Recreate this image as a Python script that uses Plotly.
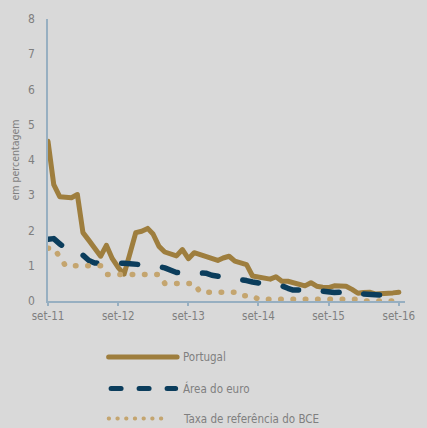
import plotly.graph_objects as go
import pandas as pd

months = pd.date_range("2011-09-01", "2016-09-01", freq="MS")

portugal = [4.53, 3.3, 2.96, 2.95, 2.93, 3.02, 1.94, 1.72, 1.5, 1.27, 1.58, 1.2, 0.95, 0.76,
            1.35, 1.94, 1.98, 2.06, 1.9, 1.55, 1.39, 1.35, 1.28, 1.46, 1.2, 1.37, 1.32, 1.28,
            1.2, 1.15, 1.22, 1.27, 1.13, 1.08, 1.03, 0.71, 0.67, 0.63, 0.62, 0.69, 0.56, 0.56,
            0.52, 0.47, 0.43, 0.52, 0.42, 0.39, 0.38, 0.43, 0.44, 0.42, 0.33, 0.22, 0.24, 0.25,
            0.2, 0.2, 0.21, 0.23, 0.25]

area_euro = [1.75, 1.77, 1.62, 1.5, 1.38, 1.28, 1.3, 1.15, 1.08, 1.08, 1.09, 1.1, 1.08, 1.07,
             1.06, 1.05, 1.03, 1.01, 1.0, 0.98, 0.94, 0.87, 0.81, 0.8, 0.79, 0.79, 0.77, 0.79,
             0.73, 0.71, 0.69, 0.67, 0.65, 0.61, 0.58, 0.54, 0.5, 0.48, 0.46, 0.44, 0.43, 0.36,
             0.31, 0.31, 0.32, 0.33, 0.33, 0.28, 0.24, 0.24, 0.25, 0.26, 0.27, 0.27, 0.2, 0.17,
             0.18, 0.17, 0.16, 0.15]

taxa_bce = [1.5, 1.5, 1.25, 1.0, 1.0, 1.0, 1.0, 1.0, 1.0, 1.0, 0.75, 0.75, 0.75, 0.75,
            0.75, 0.75, 0.75, 0.75, 0.75, 0.75, 0.5, 0.5, 0.5, 0.5, 0.5, 0.5, 0.25, 0.25,
            0.25, 0.25, 0.25, 0.25, 0.25, 0.15, 0.15, 0.15, 0.05, 0.05, 0.05, 0.05, 0.05, 0.05,
            0.05, 0.05, 0.05, 0.05, 0.05, 0.05, 0.05, 0.05, 0.05, 0.05, 0.05, 0.05, 0.0, 0.0,
            0.0, 0.0, 0.0, 0.0]

tick_dates = ["2011-09-01", "2012-09-01", "2013-09-01", "2014-09-01", "2015-09-01", "2016-09-01"]
tick_labels = ["set-11", "set-12", "set-13", "set-14", "set-15", "set-16"]
series_names = ["Portugal", "Área do euro", "Taxa de referência do BCE"]

C_PT = "#9e7e3e"
C_EU = "#0b3d5c"
C_BCE = "#c4a56f"
C_AX = "#97afc1"
C_TXT = "#7f7f7f"
BG = "#d9d9d9"
FONT = "DejaVu Sans Condensed, Liberation Sans Narrow, sans-serif"

fig = go.Figure()
fig.add_trace(go.Scatter(x=months, y=portugal, mode="lines", name=series_names[0],
                         line=dict(color=C_PT, width=5), showlegend=False))
fig.add_trace(go.Scatter(x=months[:len(area_euro)], y=area_euro, mode="lines", name=series_names[1],
                         line=dict(color=C_EU, width=5.5, dash="16px,25px"), showlegend=False))
fig.add_trace(go.Scatter(x=months[:len(taxa_bce)], y=taxa_bce, mode="lines", name=series_names[2],
                         line=dict(color=C_BCE, width=5.5, dash="0.5px,11.8px"), showlegend=False))

# manual legend
def py(ypix):
    return (301 - ypix) / 282.0

def px(xpix):
    return (xpix - 48) / 365.0

leg = [
    (357, dict(color=C_PT, width=5), 110, 180),
    (388.5, dict(color=C_EU, width=5, dash="10px,18px"), 112.5, 178.5),
    (418.5, dict(color=C_BCE, width=3.8, dash="0.5px,8.2px"), 110, 171.5),
]
for (yy, ln, x0, x1), name in zip(leg, series_names):
    fig.add_shape(type="line", xref="paper", yref="paper", x0=px(x0), x1=px(x1),
                  y0=py(yy), y1=py(yy), line=ln)
    fig.add_annotation(xref="paper", yref="paper", x=px(184), y=py(yy), text=name,
                       showarrow=False, xanchor="left", yanchor="middle",
                       font=dict(family=FONT, size=11.5, color=C_TXT))

fig.update_layout(
    width=427, height=428,
    margin=dict(l=48, r=14, t=19, b=127),
    paper_bgcolor=BG, plot_bgcolor=BG,
    font=dict(family=FONT, size=11.5, color=C_TXT),
    showlegend=False,
)
fig.update_xaxes(
    type="date", range=["2011-09-01", "2016-10-03"],
    tickvals=tick_dates, ticktext=tick_labels,
    showgrid=False, zeroline=False,
    showline=True, linecolor=C_AX, linewidth=1.5,
    ticks="outside", ticklen=3, tickcolor=C_AX, tickwidth=1.5,
    tickfont=dict(family=FONT, size=11.5, color=C_TXT),
)
fig.update_yaxes(
    range=[0, 8], dtick=1, showgrid=False, zeroline=False,
    showline=True, linecolor=C_AX, linewidth=1.5, ticks="",
    tickfont=dict(family=FONT, size=12, color=C_TXT),
    ticklabelstandoff=9,
    title=dict(text="em percentagem", font=dict(family=FONT, size=10.5, color=C_TXT), standoff=6),
)

post = ("document.body.style.margin='0';document.body.style.overflow='hidden';"
        "document.body.style.background='" + BG + "';"
        "var s=document.createElement('style');"
        "s.innerHTML='.js-line, .shapelayer path{stroke-linecap:round !important;stroke-linejoin:round !important;}';"
        "document.head.appendChild(s);")
fig.write_html("out.html", post_script=post, config={"displayModeBar": False})
